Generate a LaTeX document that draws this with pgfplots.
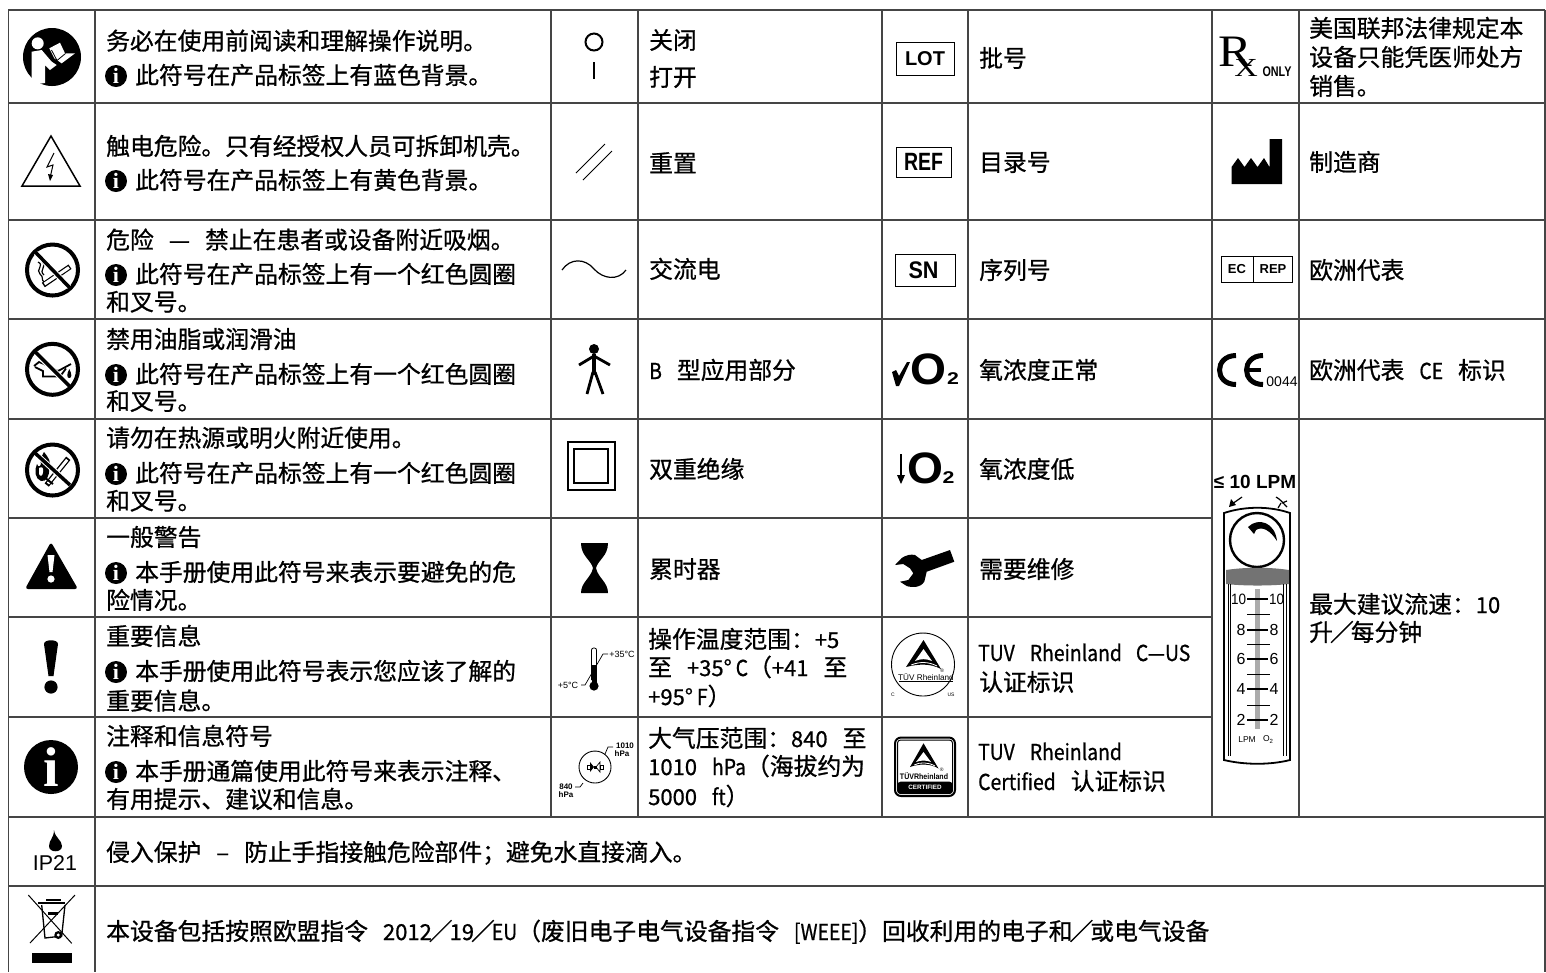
\documentclass[border=0pt]{standalone}
\usepackage{pgfplots}
\pgfplotsset{compat=1.18}
\usepackage{fontspec}
\setmainfont[FakeBold=0.8]{Noto Sans CJK SC}
\newfontfamily\ls{Liberation Sans}
\newfontfamily\lz{Liberation Serif}
\definecolor{rule}{gray}{0.27}
\newcommand\fs[1]{\fontsize{#1}{#1}\selectfont}
\newcommand\TX[3]{\node[anchor=base west,inner sep=0pt,font=\fs{23.8}] at (axis cs:#1,#2+8) {#3};}
\newcommand\Sp{\hspace{15pt}}
\newcommand\Lt[1]{\scalebox{0.88}[1]{\fs{22}#1}}
\newcommand\Dg[1]{{\fs{22}#1}}
\newcommand\Sl{\hspace{-3pt}／\hspace{-3pt}}
\newcommand\NX[4]{\node[inner sep=0pt,anchor=center,font={\ls\fs{#3}}] at (axis cs:#1,#2) {#4};}
\newcommand\HL[3]{\addplot[rule,line width=1.6pt,no marks,forget plot] coordinates {(#1,#3) (#2,#3)};}
\newcommand\VL[3]{\addplot[rule,line width=1.6pt,no marks,forget plot] coordinates {(#1,#2) (#1,#3)};}
\newcommand\Info[1]{\fill (116,#1) circle[radius=11]; \node[white,inner sep=0pt,font={\lz\bfseries\fs{22}}] at (116,#1) {i};}
\newcommand\Ring[2]{\draw[line width=4pt] (#1,#2) circle[radius=25.5];}
\begin{document}
\begin{tikzpicture}
\begin{axis}[anchor=north west,at={(0,0)},width=1546pt,height=972pt,scale only axis,
  xmin=0,xmax=1546,ymin=0,ymax=972,y dir=reverse,hide axis,clip=false]
\path (axis cs:0,0) rectangle (axis cs:1546,972);
% grid
\HL{8}{1545}{10}
\HL{8}{1545}{103}
\HL{8}{1545}{220}
\HL{8}{1545}{319}
\HL{8}{1545}{419}
\HL{8}{1212}{518}
\HL{8}{1212}{617}
\HL{8}{1212}{717}
\HL{8}{1545}{817}
\HL{8}{1545}{886}
\VL{8.5}{10}{972}
\VL{95}{10}{972}
\VL{551}{10}{817}
\VL{638}{10}{817}
\VL{882}{10}{817}
\VL{968}{10}{817}
\VL{1212}{10}{817}
\VL{1299}{10}{817}
\VL{1545}{10}{972}
% column 2 text
\TX{106}{41.7}{务必在使用前阅读和理解操作说明。}
\Info{76}\TX{135}{76}{此符号在产品标签上有蓝色背景。}
\TX{106}{147}{触电危险。只有经授权人员可拆卸机壳。}
\Info{181}\TX{135}{181}{此符号在产品标签上有黄色背景。}
\TX{106}{240.7}{危险\Sp—\Sp 禁止在患者或设备附近吸烟。}
\Info{275}\TX{135}{275}{此符号在产品标签上有一个红色圆圈}
\TX{106}{302.7}{和叉号。}
\TX{106}{340}{禁用油脂或润滑油}
\Info{375}\TX{135}{375}{此符号在产品标签上有一个红色圆圈}
\TX{106}{402}{和叉号。}
\TX{106}{438.7}{请勿在热源或明火附近使用。}
\Info{474}\TX{135}{474}{此符号在产品标签上有一个红色圆圈}
\TX{106}{501.7}{和叉号。}
\TX{106}{538}{一般警告}
\Info{573}\TX{135}{573}{本手册使用此符号来表示要避免的危}
\TX{106}{601}{险情况。}
\TX{106}{637}{重要信息}
\Info{672}\TX{135}{672}{本手册使用此符号表示您应该了解的}
\TX{106}{701.7}{重要信息。}
\TX{106}{737}{注释和信息符号}
\Info{772}\TX{135}{772}{本手册通篇使用此符号来表示注释、}
\TX{106}{800}{有用提示、建议和信息。}
\TX{106}{853}{侵入保护\Sp–\Sp 防止手指接触危险部件；避免水直接滴入。}
\TX{106}{932}{本设备包括按照欧盟指令\Sp\Dg{2012}\Sl\Dg{19}\Sl\Lt{EU}（废旧电子电气设备指令\Sp\Lt{[WEEE]}）回收利用的电子和\Sl 或电气设备}
% column 4 text
\TX{649}{41}{关闭}
\TX{649}{78}{打开}
\TX{649}{164}{重置}
\TX{649}{270}{交流电}
\TX{649}{371}{\Lt{B}\Sp 型应用部分}
\TX{649}{470}{双重绝缘}
\TX{649}{570}{累时器}
\TX{648}{640}{操作温度范围：\Dg{+5}}
\TX{648}{668}{至\Sp\Dg{+35°}\,\Lt{C}（\Dg{+41}\Sp 至}
\TX{648}{697}{\Dg{+95°}\,\Lt{F}）}
\TX{648}{739}{大气压范围：\Dg{840}\Sp 至}
\TX{648}{767}{\Dg{1010}\Sp\Lt{hPa}（海拔约为}
\TX{648}{797}{\Dg{5000}\Sp\Lt{ft}）}
% column 6 text
\TX{979}{59}{批号}
\TX{979}{163}{目录号}
\TX{979}{271}{序列号}
\TX{979}{371}{氧浓度正常}
\TX{979}{470}{氧浓度低}
\TX{979}{570}{需要维修}
\TX{978}{653}{\Lt{TUV}\hspace{15pt}\Lt{Rheinland}\hspace{14pt}\Lt{C—US}}
\TX{979}{683}{认证标识}
\TX{978}{752}{\Lt{TUV}\hspace{15pt}\Lt{Rheinland}}
\TX{978}{782}{\Lt{Certified}\Sp 认证标识}
% column 8 text
\TX{1309}{29}{美国联邦法律规定本}
\TX{1309}{58}{设备只能凭医师处方}
\TX{1309}{87}{销售。}
\TX{1309}{163}{制造商}
\TX{1309}{271}{欧洲代表}
\TX{1309}{371}{欧洲代表\Sp\Lt{CE}\Sp 标识}
\TX{1309}{605}{最大建议流速：\Dg{10}}
\TX{1309}{633}{升\Sl 每分钟}
% ---- column 1 icons
\fill (52,57) circle[radius=29];
\fill[white] (37.7,43.3) circle[radius=6];
\fill[white] (31.7,51.7) -- (41.7,50) -- (51.7,61.7) -- (56.7,65) -- (50,70) -- (45,65) -- (45,83) -- (38,84) -- (31.7,80) -- cycle;
\fill[white] (49.3,48.3) -- (60,42.7) -- (65,53.3) -- (75,53.3) -- (61.7,63.3) -- (54.3,58.3) -- cycle;
\draw[line width=0.8pt] (51.5,50) -- (57,60.5) -- (65.5,53.5);
% shock
\draw[line width=1.5pt,line join=miter] (51,136) -- (80,186) -- (22,186) -- cycle;
\draw[line width=1pt] (54,153) -- (47,167) -- (53,165) -- (50,178);
\fill (50,181) -- (48,174) -- (53,175) -- cycle;
% no smoking
\Ring{52.5}{270}
\draw[line width=5.4pt] (43.3,285) -- (70,266.7);
\draw[white,line width=3pt] (44.5,284) -- (69,267.5);
\draw[line width=1.2pt] (38,262) .. controls (45,265) and (35,270) .. (40,274) .. controls (44,277) and (41,280) .. (44,282);
\draw[line width=1.2pt] (42,262) .. controls (48,266) and (38,270) .. (44,275);
\draw[white,line width=5.5pt] (36,253) -- (69,287);
\draw[line width=3.5pt] (35,251.7) -- (70,288);
% no oil
\Ring{52.5}{369.3}
\draw[line width=1.8pt] (34,366) -- (39,362) -- (44,364) -- (58,371) -- (71,364);
\draw[line width=1.8pt] (35,367) -- (43,371) -- (43,376.5) -- (60,376.5) -- (66,368.5);
\fill (69.3,369) .. controls (72,374) and (72,378) .. (69.3,378) .. controls (66.6,378) and (66.6,374) .. (69.3,369) -- cycle;
\draw[white,line width=5.5pt] (36,353) -- (69,385.5);
\draw[line width=3.5pt] (35,351.7) -- (70,386.7);
% no flame
\Ring{52.5}{470}
\fill (44,452) .. controls (48,457) and (52,462) .. (49,468) .. controls (50,476) and (46,482) .. (41,481) .. controls (35,479) and (34,470) .. (37,464) .. controls (38,467) and (40,467) .. (41,464) .. controls (39,460) and (42,456) .. (44,452) -- cycle;
\fill[white] (39,468) .. controls (42,466) and (44,468) .. (43,472) .. controls (43,476) and (40,477) .. (39,474) -- cycle;
\draw[line width=5.4pt] (46.7,485) -- (68.3,458.3);
\draw[white,line width=2.8pt] (48,483.5) -- (67.2,459.7);
\draw[line width=2pt] (44,477) -- (53,484);
\draw[white,line width=5.5pt] (36,454) -- (69,484);
\draw[line width=3.5pt] (35,453) -- (70,485);
% warning
\fill[rounded corners=3pt,black] (51,542) -- (78,589) -- (25,589) -- cycle;
\fill[white] (47.5,555) -- (54.5,555) -- (52.5,572) -- (49.5,572) -- cycle;
\fill[white] (51,579) circle[radius=3.6];
% exclamation
\fill (44,644) .. controls (44,639) and (58,639) .. (58,644) -- (53.5,676) -- (48.5,676) -- cycle;
\fill (51,687) circle[radius=6.6];
% info
\fill (51,767) circle[radius=27];
\node[white,inner sep=0pt,font={\lz\bfseries\fs{56}}] at (51,767) {i};
% IP21
\fill (54,830) .. controls (55,838) and (62,840) .. (62,846) .. controls (62,853) and (49,853) .. (49,846) .. controls (49,840) and (54,838) .. (54,830) -- cycle;
\NX{55}{863}{21.4}{IP21}
% WEEE
\draw[line width=1pt] (28.3,895) -- (71.7,943.3);
\draw[line width=1pt] (75,895) -- (30,943);
\draw[line width=1.3pt] (41.7,905) -- (45,938) -- (61.7,936) -- (65,905);
\draw[line width=2pt] (38,903.3) -- (65,903.3);
\draw[line width=1.5pt] (46,900) -- (61,900);
\fill (48.3,912) rectangle (58.3,915);
\fill (58.3,935) circle[radius=4];
\fill[white] (58.3,935) circle[radius=1.6];
\fill (31.7,953) rectangle (71.7,963);
% ---- column 3 icons
\draw[line width=2pt] (594,42) circle[radius=8.5];
\draw[line width=2pt] (594,62) -- (594,79);
\draw[line width=1pt] (576,173) -- (605,144);
\draw[line width=1pt] (583,180) -- (612,151);
\draw[line width=1.2pt] (562,270) .. controls (570,258) and (585,258) .. (594,269) .. controls (603,279) and (618,281) .. (626,270);
\fill (594,349) circle[radius=5];
\draw[line width=4pt] (594,354) -- (594,375);
\draw[line width=2.8pt] (579,365) -- (594,356) -- (610,365);
\draw[line width=2.8pt] (587,394) -- (593,372);
\draw[line width=2.8pt] (603,394) -- (595,372);
\draw[line width=2pt] (567.5,442) rectangle (614.5,490);
\draw[line width=1.6pt] (574,449) rectangle (608,483);
\fill (581,543) -- (608,543) .. controls (608,556) and (598,560) .. (596,568) .. controls (598,578) and (608,582) .. (608,593) -- (581,593) .. controls (581,582) and (591,578) .. (593,568) .. controls (591,560) and (581,556) .. (581,543) -- cycle;
% thermometer
\draw[line width=0.8pt,rounded corners=2pt] (591.5,680) -- (591.5,648) -- (596.5,648) -- (596.5,680);
\fill (591.5,665) rectangle (596.5,684);
\fill (594,686) circle[radius=4.6];
\draw[line width=0.7pt] (581,685) -- (585,685) -- (603,654) -- (608,654);
\NX{568}{685}{9}{+5°C}
\NX{622}{654}{9}{+35°C}
% pressure
\draw[line width=0.9pt] (595,767) circle[radius=16];
\draw[line width=0.7pt] (587,765) rectangle (590,769);
\fill (590,762) -- (594,767) -- (590,772) -- cycle;
\draw[line width=0.7pt] (603,765) rectangle (600,769);
\draw[line width=0.7pt] (600,762) -- (596,767) -- (600,772) -- cycle;
\fill (593.5,765.5) rectangle (596.5,768.5);
\draw[line width=0.7pt] (605,754) -- (608,747) -- (613,747);
\draw[line width=0.7pt] (583,783) -- (580,787) -- (575,787);
\NX{625}{746}{8}{\bfseries 1010}
\NX{622}{754}{8}{\bfseries hPa}
\NX{566}{787}{8}{\bfseries 840}
\NX{566}{795}{8}{\bfseries hPa}
% ---- column 5 icons
\draw[line width=1pt] (896,42) rectangle (954,75.5);
\NX{925}{59}{20}{\bfseries LOT}
\draw[line width=1pt] (896,147) rectangle (951,177);
\NX{923.5}{162}{25}{\bfseries\scalebox{0.78}[1]{REF}}
\draw[line width=1pt] (895,254) rectangle (955,286);
\NX{923.5}{270}{24}{\bfseries\scalebox{0.9}[1]{SN}}
% check O2
\fill (892,372) -- (896,370) -- (899,376) -- (907,362) -- (910,362) -- (899,386) -- (896,386) -- cycle;
\NX{928}{369}{44}{\bfseries\scalebox{1.05}[1]{O}}
\NX{953}{379}{17}{\bfseries\scalebox{1.25}[1]{2}}
% down O2
\draw[line width=1.5pt] (901,454) -- (901,478);
\fill (897,475) -- (905,475) -- (901,484) -- cycle;
\NX{925.5}{468}{44}{\bfseries\scalebox{1.05}[1]{O}}
\NX{948.5}{478}{17}{\bfseries\scalebox{1.25}[1]{2}}
% wrench
\fill (895,565) -- (901.7,558) .. controls (906,555) and (911,554) .. (915,555) -- (921.7,560) -- (950,550) -- (954.3,561.7) -- (926.7,571.7) -- (924.3,581.7) .. controls (922,585) and (919,586.5) .. (916.7,586.7) .. controls (913,587) and (909,587) .. (906.7,586) -- (900,581.7) -- (908.3,580) -- (913.3,573.3) -- (910,568.3) -- (903.3,564) -- cycle;
% TUV circle
\draw[line width=0.9pt] (923,664.5) circle[radius=31.5];
\fill (923.5,640) -- (941,669) .. controls (930,663) and (918,664) .. (906,667) -- cycle;
\fill[white] (923.5,649) -- (932,661) .. controls (926,658.5) and (921,658.5) .. (915,661) -- cycle;
\draw[white,line width=0.8pt] (911,665) .. controls (920,661.5) and (928,661.5) .. (937,666);
\NX{926}{677}{8.2}{TÜV Rheinland}
\draw[line width=0.6pt] (899,681.5) -- (953,681.5);
\NX{942.3}{671}{5}{®}
\NX{893}{695}{5}{C}
\NX{951}{695}{5}{US}
% TUV square
\draw[line width=2pt,rounded corners=6pt] (895,737.5) rectangle (955,796);
\fill[rounded corners=3pt] (897.5,781.7) rectangle (952.5,793.5);
\draw[line width=1pt,rounded corners=3pt] (897.5,740) rectangle (952.5,793.5);
\fill (923.5,743.3) -- (938.5,768.5) .. controls (930,763) and (918,764) .. (910,767) -- cycle;
\fill[white] (923.5,752) -- (931,762) .. controls (926,760) and (921,760) .. (916,762) -- cycle;
\draw[white,line width=0.8pt] (914,765) .. controls (920,762) and (928,762) .. (935,766);
\NX{924}{776}{8}{\bfseries\scalebox{0.88}[1]{TÜVRheinland}}
\node[white,inner sep=0pt,font={\ls\bfseries\fs{6.3}}] at (925,787.7) {CERTIFIED};
\NX{941.7}{770}{5}{®}
% ---- column 7 icons
\node[inner sep=0pt,font={\lz\fs{45}}] at (1235.5,52) {\scalebox{1.12}[1]{R}};
\node[inner sep=0pt,font={\lz\fs{26}}] at (1246,67.5) {\scalebox{1.25}[1]{X}};
\NX{1277}{72}{14}{\scalebox{0.77}[1]{\bfseries ONLY}}
\fill (1231.5,184) -- (1231.5,167) -- (1238,158) -- (1244.5,167) -- (1251,158) -- (1257.5,167) -- (1264,158) -- (1269.5,167) -- (1269.5,139) -- (1282,139) -- (1282,184) -- cycle;
\draw[line width=0.9pt] (1221.5,256) rectangle (1292.5,282);
\draw[line width=0.9pt] (1253,256) -- (1253,282);
\NX{1237}{269}{13}{\bfseries EC}
\NX{1273}{269}{13}{\bfseries REP}
% CE
\draw[line width=5pt] (1236,355.5) .. controls (1214,355.5) and (1214,384.5) .. (1236,384.5);
\draw[line width=5pt] (1263,355.5) .. controls (1241,355.5) and (1241,384.5) .. (1263,384.5);
\draw[line width=4pt] (1247,370) -- (1261,370);
\NX{1282}{382}{14}{0044}
% flowmeter
\NX{1255}{482}{19}{\bfseries ≤ 10 LPM}
\draw[line width=1.2pt] (1242,497) -- (1232,504);
\fill (1229,507) -- (1231,499) -- (1236,505) -- cycle;
\draw[line width=1.2pt] (1276,497) .. controls (1280,499) and (1282,502) .. (1287,507);
\draw[line width=1.2pt] (1282,503) -- (1287,501);
\draw[line width=1.2pt] (1281,503) -- (1278,508);
\draw[line width=1.8pt] (1224,513) .. controls (1245,506) and (1270,506) .. (1290,513) -- (1290,760) .. controls (1270,765) and (1245,765) .. (1224,760) -- cycle;
\draw[line width=2.4pt] (1257,540) circle[radius=27];
\fill (1248,527) .. controls (1258,517) and (1275,522) .. (1277,541) .. controls (1270,530) and (1262,526) .. (1256,530) -- (1254,534) -- cycle;
\fill[black!55] (1226,570) .. controls (1245,567) and (1270,567) .. (1289,570) -- (1289,584) .. controls (1270,586) and (1245,586) .. (1226,584) -- cycle;
\draw[line width=0.9pt] (1228,584) -- (1228,756);
\draw[line width=0.9pt] (1230.5,584) -- (1230.5,756);
\draw[line width=0.9pt] (1286,584) -- (1286,756);
\draw[line width=0.9pt] (1283.5,584) -- (1283.5,756);
\fill[black!33] (1255,589) rectangle (1259.5,729);
\draw[line width=1.4pt] (1247,599) -- (1268,599);
\draw[line width=1.4pt] (1247,630) -- (1268,630);
\draw[line width=1.4pt] (1247,659) -- (1268,659);
\draw[line width=1.4pt] (1247,689) -- (1268,689);
\draw[line width=1.4pt] (1247,720) -- (1268,720);
\draw[line width=0.7pt] (1247,614) -- (1270,614);
\draw[line width=0.7pt] (1247,644) -- (1270,644);
\draw[line width=0.7pt] (1247,674) -- (1270,674);
\draw[line width=0.7pt] (1247,705) -- (1270,705);
\NX{1238.5}{599}{15}{\scalebox{0.9}[1]{10}}
\NX{1276.5}{599}{15}{\scalebox{0.9}[1]{10}}
\NX{1241}{630}{16}{8}
\NX{1274}{630}{16}{8}
\NX{1241}{659}{16}{6}
\NX{1274}{659}{16}{6}
\NX{1241}{689}{16}{4}
\NX{1274}{689}{16}{4}
\NX{1241}{720}{16}{2}
\NX{1274}{720}{16}{2}
\NX{1247}{740}{8.5}{LPM}
\NX{1268}{740}{8.5}{O\raisebox{-2pt}{\fs{6}2}}
\end{axis}
\end{tikzpicture}
\end{document}
